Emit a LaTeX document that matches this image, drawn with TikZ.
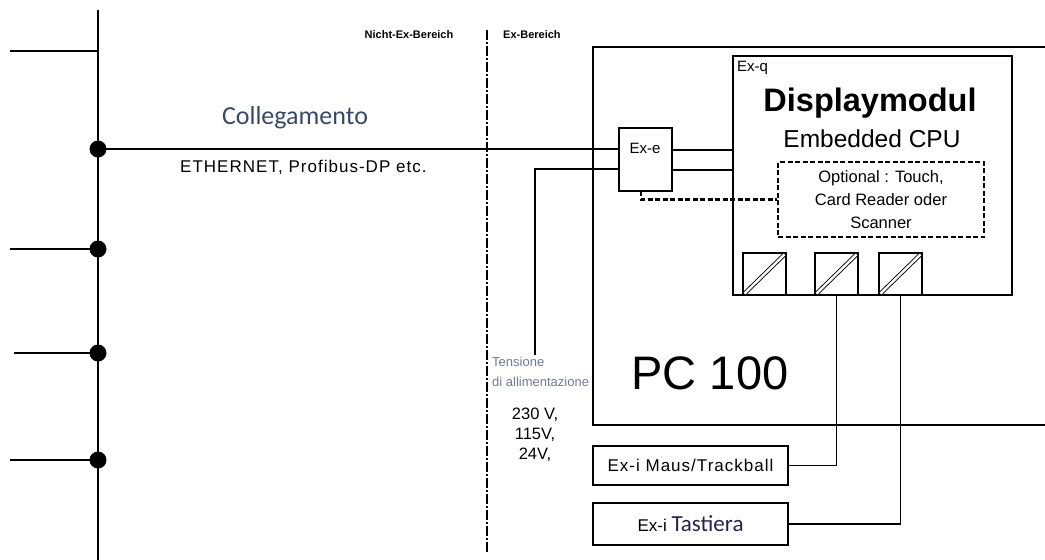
\documentclass[tikz,border=0pt]{standalone}
\usepackage{fontspec}
\setmainfont{Liberation Sans}
\newfontfamily\calib{Carlito}
\newfontfamily\widef[LetterSpace=6]{Liberation Sans}
\definecolor{collcol}{HTML}{3A4868}
\definecolor{tenscol}{HTML}{6F7A98}
\definecolor{tastcol}{HTML}{2A2050}
\tikzset{
  wire/.style={line width=1.4pt},
  dotnode/.style={circle,fill=black,inner sep=0pt,minimum size=17pt},
  boxnode/.style={draw,line width=1.4pt,inner sep=0pt},
  optbox/.style={draw,line width=2.3pt,dash pattern=on 5pt off 2.5pt,inner sep=0pt},
  optline/.style={line width=2.3pt,dash pattern=on 5pt off 2.5pt},
  zoneline/.style={line width=1.1pt,dash pattern=on 10pt off 2pt on 2pt off 2pt},
  lbl/.style={inner sep=0pt},
}
\begin{document}
\begin{tikzpicture}[x=1pt,y=-1pt]
\useasboundingbox (0,0) rectangle (1045,560);
% bus
\coordinate (bustop) at (98,10);
\coordinate (busbot) at (98,560);
\draw[wire] (bustop) -- (busbot);
\coordinate (l0) at (10,51);
\coordinate (b0) at (98,51);
\draw[wire] (l0) -- (b0);
\node[dotnode] (d1) at (98,149) {};
\node[dotnode] (d2) at (98,249) {};
\node[dotnode] (d3) at (98,353) {};
\node[dotnode] (d4) at (98,460) {};
\coordinate (l2) at (10,249);
\coordinate (l3) at (14,353);
\coordinate (l4) at (10,460);
\draw[wire] (l2) -- (d2.center);
\draw[wire] (l3) -- (d3.center);
\draw[wire] (l4) -- (d4.center);
% zone line
\coordinate (ztop) at (487,30);
\coordinate (zbot) at (487,552);
\draw[zoneline] (ztop) -- (zbot);
\node[lbl,font=\bfseries\fontsize{11}{12}\selectfont] (nex) at (409,35) {Nicht-Ex-Bereich};
\node[lbl,font=\bfseries\fontsize{11}{12}\selectfont,anchor=west] (exb) at (503,35) {Ex-Bereich};
% PC 100 frame
\coordinate (f1) at (1045,47);
\coordinate (f2) at (593,47);
\coordinate (f3) at (593,425);
\coordinate (f4) at (1045,425);
\draw[wire] (f1) -- (f2) -- (f3) -- (f4);
\node[lbl,font=\fontsize{47}{50}\selectfont] (pc) at (710,373) {PC 100};
% Ex-e
\node[boxnode,minimum width=53pt,minimum height=63pt] (exe) at (645.5,159.5) {};
\node[lbl,font=\fontsize{15}{16}\selectfont] (exet) at (645,148) {Ex-e};
% display module
\node[boxnode,minimum width=279pt,minimum height=239pt] (disp) at (872.5,175.5) {};
\node[lbl,font=\fontsize{15}{16}\selectfont,anchor=west] (exq) at (737,68) {Ex-q};
\node[lbl,font=\bfseries\fontsize{32.5}{34}\selectfont] (dispt) at (870,103) {Displaymodul};
\node[lbl,font=\fontsize{24.5}{26}\selectfont] (cpu) at (872,139) {Embedded CPU};
\node[optbox,minimum width=206pt,minimum height=75pt] (opt) at (881,199.5) {};
\node[lbl,align=center,font=\fontsize{16.5}{23}\selectfont] (optt) at (881,200) {Optional : Touch,\\Card Reader oder\\Scanner};
% connector boxes
\node[boxnode,minimum width=43pt,minimum height=42pt] (c1) at (764.5,274) {};
\node[boxnode,minimum width=43pt,minimum height=42pt] (c2) at (836.5,274) {};
\node[boxnode,minimum width=43pt,minimum height=42pt] (c3) at (900.5,274) {};
\foreach \c in {c1,c2,c3}{
  \draw[line width=0.9pt,double,double distance=2.4pt,shorten <=3pt,shorten >=3pt] (\c.south west) -- (\c.north east);
}
% links
\draw[wire] (d1.center) -- (d1.center -| exe.west);
\node[lbl,font=\calib\fontsize{26}{28}\selectfont,text=collcol] (coll) at (295,118) {Collegamento};
\node[lbl,font=\widef\fontsize{17}{18}\selectfont,anchor=west] (eth) at (180,167) {ETHERNET, Profibus-DP etc.};
\coordinate (pw) at (535,355);
\coordinate (pwin) at (619,169);
\draw[wire] (pw) |- (pwin);
\coordinate (eo1) at (672,150);
\coordinate (eo2) at (672,170);
\draw[wire] (eo1) -- (eo1 -| disp.west);
\draw[wire] (eo2) -- (eo2 -| disp.west);
\coordinate (dsh) at (641,191);
\draw[optline] (dsh) |- (opt.west);
% supply labels
\node[lbl,font=\fontsize{13}{14}\selectfont,text=tenscol,anchor=west] (ten1) at (492,362) {Tensione};
\node[lbl,font=\fontsize{13}{14}\selectfont,text=tenscol,anchor=west] (ten2) at (492,382) {di allimentazione};
\node[lbl,align=center,font=\fontsize{16.5}{20}\selectfont] (volt) at (535,435) {230 V,\\115V,\\24V,};
% external devices
\node[boxnode,minimum width=195pt,minimum height=39pt,font=\widef\fontsize{17}{18}\selectfont] (maus) at (690.5,465.5) {Ex-i Maus/Trackball};
\node[boxnode,minimum width=195pt,minimum height=42pt] (tast) at (690.5,524) {\fontsize{17}{18}\selectfont Ex-i \calib\fontsize{23}{24}\selectfont\color{tastcol}Tastiera};
\draw[wire] (c2.south) |- (maus.east);
\draw[wire] (c3.south) |- (tast.east);
\end{tikzpicture}
\end{document}
